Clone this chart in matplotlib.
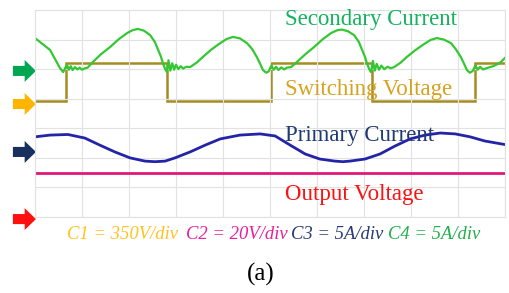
import matplotlib
matplotlib.use('Agg')
import matplotlib.pyplot as plt
from matplotlib.patches import FancyArrow

# scope readings, in divisions (x: 0..10, y: 0..7 from the bottom of the grid)
sec_x = [0.00, 0.32, 0.53, 0.60, 0.68, 0.72, 0.76, 0.80, 0.85, 0.90, 0.95, 1.00, 1.06, 1.12,
         1.23, 1.40, 1.60, 1.78, 1.96, 2.08, 2.19, 2.32, 2.45, 2.55, 2.62, 2.68, 2.72, 2.77, 2.81,
         2.84, 2.88, 2.92, 2.96, 3.00, 3.05, 3.10, 3.15, 3.22,
         3.30, 3.44, 3.57, 3.75, 3.94, 4.08, 4.21, 4.36, 4.51, 4.62, 4.72, 4.79, 4.85,
         4.92, 4.97, 5.03, 5.08, 5.13, 5.18, 5.24, 5.30, 5.36, 5.45,
         5.57, 5.75, 5.94, 6.12, 6.30, 6.42, 6.53, 6.66, 6.79, 6.89, 6.96, 7.02, 7.06, 7.11, 7.15,
         7.19, 7.23, 7.27, 7.32, 7.37, 7.43, 7.50, 7.57,
         7.64, 7.78, 7.91, 8.09, 8.28, 8.42, 8.55, 8.70, 8.85, 8.96, 9.06, 9.13, 9.19,
         9.25, 9.31, 9.37, 9.42, 9.47, 9.53, 9.62, 9.75, 9.89, 10.0]
sec_y = [6.05, 5.65, 5.04, 4.90, 5.15, 4.98, 5.10, 4.97, 5.07, 4.99, 5.05, 4.98, 5.03, 5.05,
         5.24, 5.50, 5.75, 6.01, 6.22, 6.32, 6.36, 6.30, 6.15, 5.92, 5.65, 5.42, 5.21, 5.00, 4.90,
         5.30, 4.95, 5.20, 4.98, 5.15, 5.00, 5.10, 5.02, 5.08,
         5.07, 5.22, 5.41, 5.66, 5.88, 6.02, 6.09, 6.04, 5.88, 5.68, 5.41, 5.18, 4.97,
         4.88, 4.92, 5.12, 4.98, 5.08, 4.97, 5.06, 4.99, 5.05, 5.07,
         5.24, 5.50, 5.75, 6.01, 6.22, 6.31, 6.34, 6.28, 6.15, 5.92, 5.65, 5.42, 5.21, 5.00, 4.90,
         5.28, 4.95, 5.18, 4.98, 5.12, 5.00, 5.08, 5.03,
         5.07, 5.22, 5.41, 5.64, 5.85, 5.99, 6.05, 6.00, 5.88, 5.66, 5.41, 5.18, 4.97,
         4.88, 4.93, 5.12, 4.98, 5.08, 4.99, 5.04, 5.10, 5.21, 5.38]

sw_edges = [0, 0.67, 2.81, 5.02, 7.17, 9.36, 10]
sw_levels = [3.92, 5.20, 3.92, 5.20, 3.92, 5.20]

pri_x = [0.00, 0.32, 0.70, 1.06, 1.38, 1.70, 2.02, 2.34, 2.55, 2.77, 2.98, 3.30, 3.62, 3.94,
         4.36, 4.79, 5.11, 5.43, 5.75, 6.06, 6.38, 6.55, 6.70, 7.02, 7.34, 7.66, 7.98, 8.30,
         8.62, 8.94, 9.26, 9.57, 10.0]
pri_y = [2.71, 2.77, 2.79, 2.67, 2.43, 2.20, 2.00, 1.89, 1.87, 1.89, 2.00, 2.20, 2.43, 2.64,
         2.77, 2.81, 2.74, 2.43, 2.13, 1.96, 1.89, 1.87, 1.89, 1.96, 2.13, 2.40, 2.64, 2.77,
         2.84, 2.81, 2.71, 2.57, 2.45]

out_x = [0, 10]
out_y = [1.48, 1.48]

trace_names = ['Secondary Current', 'Switching Voltage', 'Primary Current', 'Output Voltage']
trace_colors = ['#12b35c', '#d6a321', '#1f3a72', '#fa1212']
marker_levels = [4.94, 3.82, 2.20, -0.07]
marker_colors = ['#00a651', '#ffb400', '#18305e', '#ff1010']

scale_labels = ['C1 = 350V/div', 'C2 = 20V/div', 'C3 = 5A/div', 'C4 = 5A/div']
scale_colors = ['#ffc222', '#e8209a', '#2a3a78', '#22b04c']

plt.rcParams['font.family'] = ['Liberation Serif', 'DejaVu Serif']

fig = plt.figure(figsize=(5.10, 2.93), dpi=100)
ax = fig.add_axes([35 / 510, 1 - 217 / 293, 470 / 510, 207 / 293])
ax.set_xlim(0, 10)
ax.set_ylim(0, 7)
ax.set_xticks(range(11))
ax.set_yticks(range(8))
ax.tick_params(length=0, labelbottom=False, labelleft=False)
ax.grid(True, color='#e2e2e2', lw=0.8)
for s in ax.spines.values():
    s.set_color('#e2e2e2')
    s.set_linewidth(0.8)

ax.plot(out_x, out_y, color='#e0187c', lw=2.0)
ax.plot(pri_x, pri_y, color='#2424a8', lw=2.0)
ax.stairs(sw_levels, sw_edges, baseline=None, color='#a58c22', lw=1.8)
ax.plot(sec_x, sec_y, color='#33c833', lw=1.6)

# channel markers on the left
for lev, col in zip(marker_levels, marker_colors):
    ax.add_patch(FancyArrow(-0.47, lev, 0.49, 0, width=0.34, head_width=0.74,
                            head_length=0.24, length_includes_head=True,
                            color=col, clip_on=False, lw=0))

name_base = [25, 95, 141, 200]
for name, col, yb in zip(trace_names, trace_colors, name_base):
    fig.text(285 / 510, 1 - yb / 293, name, color=col, fontsize=16.5, va='baseline')

scale_x = [67, 186, 291, 388]
for lab, col, xp in zip(scale_labels, scale_colors, scale_x):
    fig.text(xp / 510, 1 - 239 / 293, lab, color=col, fontsize=13.4, style='italic',
             va='baseline')

fig.text(261 / 510, 1 - 281 / 293, '(a)', color='black', fontsize=18, ha='center',
         va='baseline')

fig.savefig('out.png', dpi=100)
